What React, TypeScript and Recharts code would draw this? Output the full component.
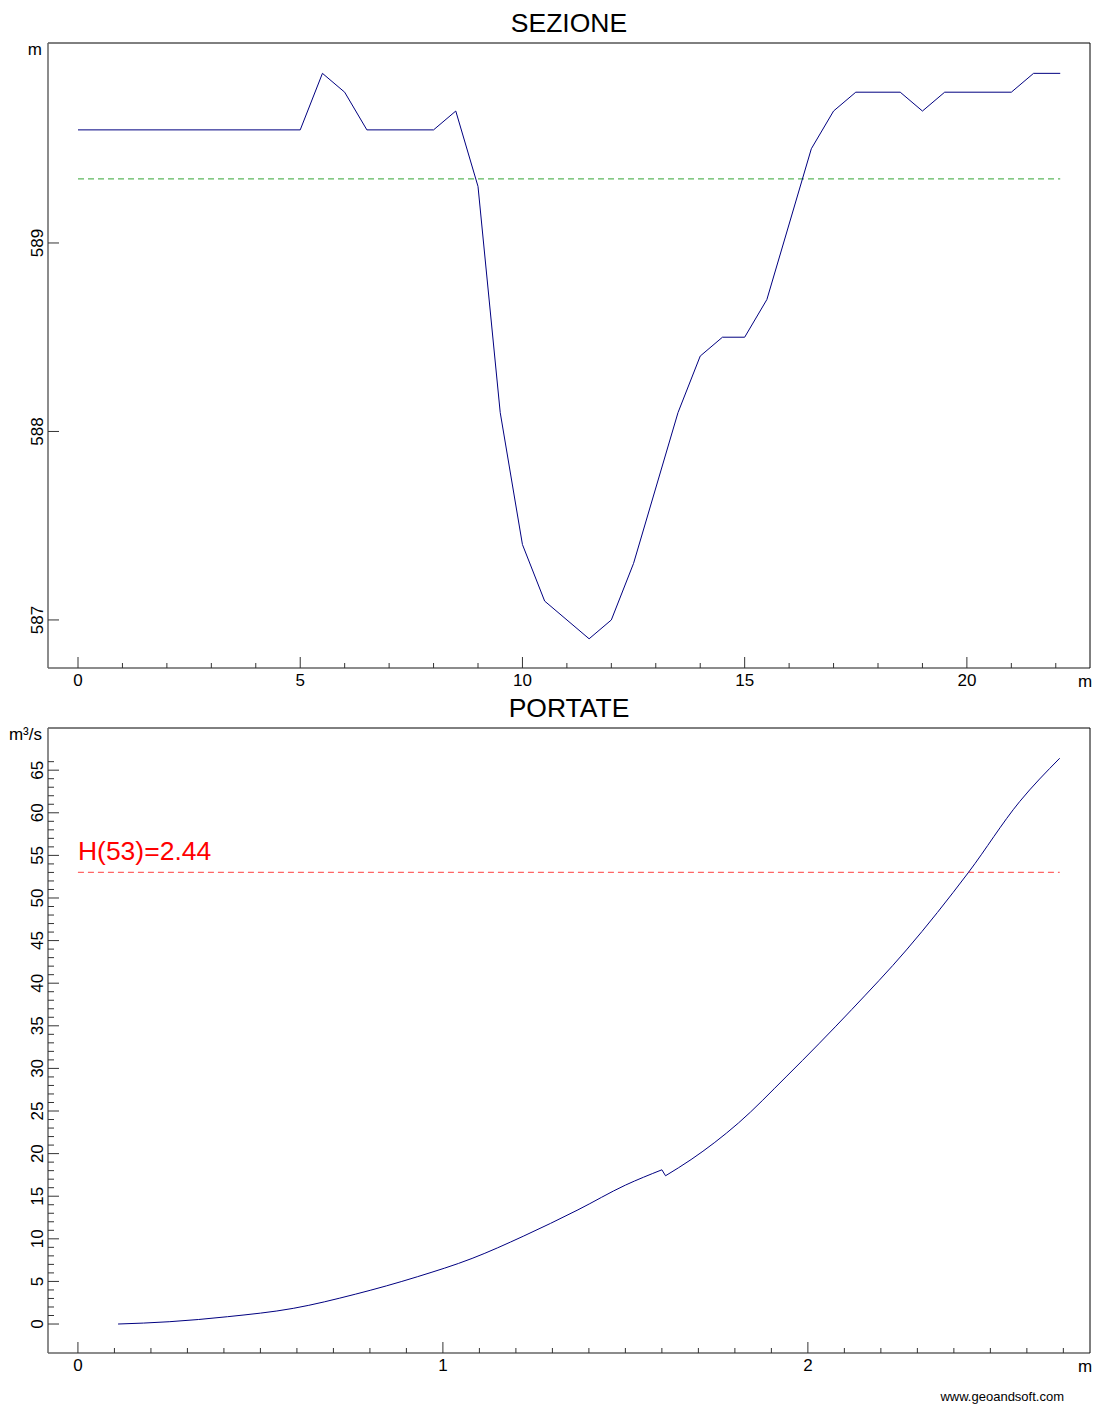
import React from 'react';
import { LineChart, Line, XAxis, YAxis, ReferenceLine } from 'recharts';

const FONT = '"Liberation Sans", Arial, Helvetica, sans-serif';

// ---- SEZIONE (cross section) ----
const sectionX = [0, 5, 5.5, 6, 6.5, 8, 8.5, 9, 9.5, 10, 10.5, 11.5, 12, 12.5, 13.5, 14, 14.5, 15, 15.5, 16.5, 17, 17.5, 18.5, 19, 19.5, 21, 21.5, 22.1];
const sectionZ = [589.6, 589.6, 589.9, 589.8, 589.6, 589.6, 589.7, 589.3, 588.1, 587.4, 587.1, 586.9, 587.0, 587.3, 588.1, 588.4, 588.5, 588.5, 588.7, 589.5, 589.7, 589.8, 589.8, 589.7, 589.8, 589.8, 589.9, 589.9];
const waterLevel = 589.34;
const waterFromX = 0;
const waterToX = 22.1;
const secXTicks = [0, 1, 2, 3, 4, 5, 6, 7, 8, 9, 10, 11, 12, 13, 14, 15, 16, 17, 18, 19, 20, 21, 22];
const secXMajor = [0, 5, 10, 15, 20];
const secYTicks = [587, 588, 589];
const secYMajor = [587, 588, 589];

// ---- PORTATE (rating curve) ----
const depthH = [0.11, 0.25, 0.41, 0.59, 0.76, 0.93, 1.08, 1.22, 1.37, 1.5, 1.6, 1.61, 1.68, 1.81, 1.94, 2.12, 2.27, 2.44, 2.58, 2.69];
const flowQ = [0, 0.27, 0.86, 1.84, 3.5, 5.55, 7.7, 10.3, 13.4, 16.3, 18.1, 17.4, 19.3, 23.6, 29.0, 36.9, 43.9, 53.0, 61.3, 66.4];
const kinkIndex = 10; // last point before the small drop in discharge
const designFlow = 53;
const designFromX = 0;
const designToX = 2.69;
const designLabel = 'H(53)=2.44';
const flowXTicks = [0, 0.1, 0.2, 0.3, 0.4, 0.5, 0.6, 0.7, 0.8, 0.9, 1, 1.1, 1.2, 1.3, 1.4, 1.5, 1.6, 1.7, 1.8, 1.9, 2, 2.1, 2.2, 2.3, 2.4, 2.5, 2.6, 2.7];
const flowXMajor = [0, 1, 2];
const flowYTicks = [0, 1, 2, 3, 4, 5, 6, 7, 8, 9, 10, 11, 12, 13, 14, 15, 16, 17, 18, 19, 20, 21, 22, 23, 24, 25, 26, 27, 28, 29, 30, 31, 32, 33, 34, 35, 36, 37, 38, 39, 40, 41, 42, 43, 44, 45, 46, 47, 48, 49, 50, 51, 52, 53, 54, 55, 56, 57, 58, 59, 60, 61, 62, 63, 64, 65, 66];
const flowYMajor = [0, 5, 10, 15, 20, 25, 30, 35, 40, 45, 50, 55, 60, 65];

const sectionData = sectionX.map((x, i) => ({ x, z: sectionZ[i] }));
const flowData = depthH.map((h, i) => ({
  h,
  qLow: i <= kinkIndex ? flowQ[i] : null,
  qJump: i === kinkIndex || i === kinkIndex + 1 ? flowQ[i] : null,
  qHigh: i > kinkIndex ? flowQ[i] : null,
}));

const isIn = (arr: number[], v: number) => arr.some((m) => Math.abs(m - v) < 1e-9);

const makeXTick = (majors: number[]) => (props: any) => {
  const { x, y, payload } = props;
  const v = payload.value;
  const major = isIn(majors, v);
  return (
    <g>
      <line x1={x} y1={y} x2={x} y2={y - (major ? 11 : 5)} stroke="#333" strokeWidth={1} />
      {major && (
        <text x={x} y={y + 18} textAnchor="middle" fontSize={17} fontFamily={FONT} fill="#000">
          {String(v)}
        </text>
      )}
    </g>
  );
};

const makeYTick = (majors: number[]) => (props: any) => {
  const { x, y, payload } = props;
  const v = payload.value;
  const major = isIn(majors, v);
  const tx = x - 5;
  return (
    <g>
      <line x1={x} y1={y} x2={x + (major ? 11 : 6)} y2={y} stroke="#333" strokeWidth={1} />
      {major && (
        <text x={tx} y={y} transform={`rotate(-90, ${tx}, ${y})`} textAnchor="middle" fontSize={17} fontFamily={FONT} fill="#000">
          {String(v)}
        </text>
      )}
    </g>
  );
};

const DesignLabel = (props: any) => {
  const vb = props.viewBox || {};
  return (
    <text x={vb.x} y={vb.y - 12} fontSize={26.5} fontFamily={FONT} fill="#ff0000">
      {designLabel}
    </text>
  );
};

const W = 1095;

export default function App() {
  return (
    <div style={{ position: 'absolute', left: 0, top: 0, width: W, height: 1405, background: '#fff', fontFamily: FONT }}>
      <div style={{ position: 'absolute', left: 0, top: 0 }}>
        <LineChart width={W} height={700} data={sectionData} margin={{ top: 42, right: 4, bottom: 31, left: 47 }}>
          <XAxis dataKey="x" type="number" domain={[-0.675, 22.77]} allowDataOverflow ticks={secXTicks} interval={0} height={1} tickSize={0} tickMargin={0} tick={makeXTick(secXMajor)} tickLine={false} axisLine={{ stroke: '#666', strokeWidth: 1.5 }} />
          <XAxis xAxisId="top" orientation="top" type="number" domain={[-0.675, 22.77]} allowDataOverflow height={1} tick={false} tickLine={false} axisLine={{ stroke: '#000' }} />
          <YAxis dataKey="z" type="number" domain={[586.745, 590.061]} allowDataOverflow ticks={secYTicks} interval={0} width={1} tickSize={0} tickMargin={0} tick={makeYTick(secYMajor)} tickLine={false} axisLine={{ stroke: '#666', strokeWidth: 1.5 }} />
          <YAxis yAxisId="right" orientation="right" type="number" domain={[586.745, 590.061]} allowDataOverflow width={1} tick={false} tickLine={false} axisLine={{ stroke: '#000' }} />
          <ReferenceLine segment={[{ x: waterFromX, y: waterLevel }, { x: waterToX, y: waterLevel }]} stroke="#5cb85c" strokeWidth={1.2} strokeDasharray="6 4" />
          <Line type="linear" dataKey="z" stroke="#000080" strokeWidth={1} dot={false} isAnimationActive={false} />
        </LineChart>
      </div>
      <div style={{ position: 'absolute', left: 0, top: 700 }}>
        <LineChart width={W} height={705} data={flowData} margin={{ top: 27, right: 4, bottom: 51, left: 47 }}>
          <XAxis dataKey="h" type="number" domain={[-0.082, 2.773]} allowDataOverflow ticks={flowXTicks} interval={0} height={1} tickSize={0} tickMargin={0} tick={makeXTick(flowXMajor)} tickLine={false} axisLine={{ stroke: '#666', strokeWidth: 1.5 }} />
          <XAxis xAxisId="top" orientation="top" type="number" domain={[-0.082, 2.773]} allowDataOverflow height={1} tick={false} tickLine={false} axisLine={{ stroke: '#000' }} />
          <YAxis type="number" domain={[-3.4, 69.95]} allowDataOverflow ticks={flowYTicks} interval={0} width={1} tickSize={0} tickMargin={0} tick={makeYTick(flowYMajor)} tickLine={false} axisLine={{ stroke: '#666', strokeWidth: 1.5 }} />
          <YAxis yAxisId="right" orientation="right" type="number" domain={[-3.4, 69.95]} allowDataOverflow width={1} tick={false} tickLine={false} axisLine={{ stroke: '#000' }} />
          <ReferenceLine segment={[{ x: designFromX, y: designFlow }, { x: designToX, y: designFlow }]} stroke="#ff6666" strokeWidth={1.2} strokeDasharray="6 4" label={(p: any) => <DesignLabel {...p} />} />
          <Line type="monotoneX" dataKey="qLow" stroke="#000080" strokeWidth={1} dot={false} isAnimationActive={false} />
          <Line type="linear" dataKey="qJump" stroke="#000080" strokeWidth={1} dot={false} isAnimationActive={false} />
          <Line type="monotoneX" dataKey="qHigh" stroke="#000080" strokeWidth={1} dot={false} isAnimationActive={false} />
        </LineChart>
      </div>
      <svg width={W} height={1405} style={{ position: 'absolute', left: 0, top: 0, pointerEvents: 'none' }}>
        <text x={569} y={32} textAnchor="middle" fontSize={26.5} fontFamily={FONT} fill="#000">SEZIONE</text>
        <text x={569} y={717} textAnchor="middle" fontSize={26.5} fontFamily={FONT} fill="#000">PORTATE</text>
        <text x={42} y={55} textAnchor="end" fontSize={17} fontFamily={FONT} fill="#000">m</text>
        <text x={42} y={740} textAnchor="end" fontSize={17} fontFamily={FONT} fill="#000">m³/s</text>
        <text x={1078} y={687} textAnchor="start" fontSize={17} fontFamily={FONT} fill="#000">m</text>
        <text x={1078} y={1372} textAnchor="start" fontSize={17} fontFamily={FONT} fill="#000">m</text>
        <text x={1064} y={1401} textAnchor="end" fontSize={13} fontFamily={FONT} fill="#000">www.geoandsoft.com</text>
      </svg>
    </div>
  );
}
